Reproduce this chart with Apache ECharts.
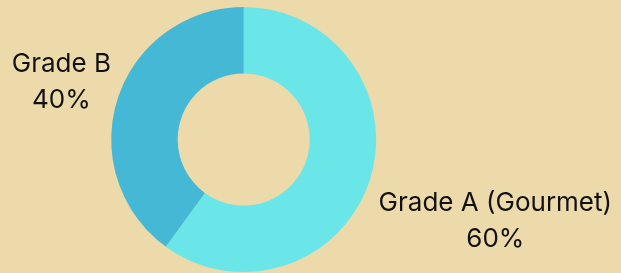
<!DOCTYPE html>
<html>
<head>
    <meta charset="utf-8">
    <script src="https://cdnjs.cloudflare.com/ajax/libs/echarts/6.0.0/echarts.min.js"></script>
    <style>
        html, body { margin: 0; padding: 0; background: #EDDAAB; }
    </style>
</head>
<body>
<div id="main" style="width: 621px;height:273px;"></div>
<script type="text/javascript">
    // data
    var grades = ['Grade A (Gourmet)', 'Grade B'];
    var shares = [60, 40];
    var colors = ['#6BE6E8', '#45B8D6'];
    // label line lengths per slice (labels sit at the end of an invisible line)
    var lineLen = [131, 54];
    var lineLen2 = [1, 5];

    var myChart = echarts.init(document.getElementById('main'));

    var pieData = [];
    for (var i = 0; i < grades.length; i++) {
        pieData.push({
            name: grades[i],
            value: shares[i],
            itemStyle: {color: colors[i]},
            labelLine: {length: lineLen[i], length2: lineLen2[i]}
        });
    }

    myChart.setOption({
        backgroundColor: '#EDDAAB',
        animation: false,
        series: [{
            type: 'pie',
            center: [243.7, 139.5],
            radius: [66, 132.5],
            startAngle: 90,
            clockwise: true,
            avoidLabelOverlap: false,
            data: pieData,
            label: {
                show: true,
                position: 'outside',
                formatter: '{b}\n{d}%',
                fontFamily: 'Inter',
                fontSize: 26,
                lineHeight: 36,
                color: '#111111',
                width: 300,
                overflow: 'none'
            },
            labelLine: {
                show: true,
                lineStyle: {opacity: 0}
            },
            labelLayout: function (p) {
                var pts = p.labelLinePoints;
                return {
                    x: pts[2][0],
                    y: pts[2][1],
                    align: 'center',
                    verticalAlign: 'middle'
                };
            }
        }]
    });
</script>
</body>
</html>
